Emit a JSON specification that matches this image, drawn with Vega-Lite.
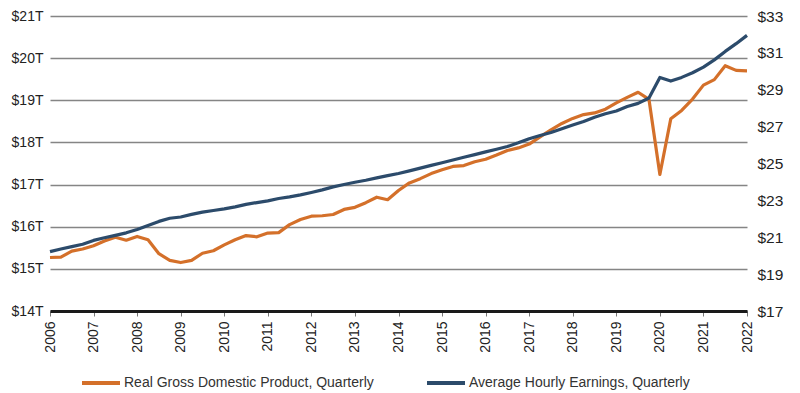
{
  "$schema": "https://vega.github.io/schema/vega-lite/v6.json",
  "width": 697,
  "height": 295,
  "autosize": {"type": "none"},
  "padding": {"left": 50, "top": 16, "right": 53, "bottom": 82},
  "background": "white",
  "config": {
    "view": {"stroke": null},
    "font": "Liberation Sans",
    "axis": {"labelFont": "Liberation Sans", "labelColor": "#222222"},
    "legend": {"labelFont": "Liberation Sans"}
  },
  "data": {
    "values": [
      {"t": 2006, "gdp": 15.27, "ahe": 20.22},
      {"t": 2006.25, "gdp": 15.28, "ahe": 20.36},
      {"t": 2006.5, "gdp": 15.42, "ahe": 20.49},
      {"t": 2006.75, "gdp": 15.47, "ahe": 20.62},
      {"t": 2007, "gdp": 15.55, "ahe": 20.83},
      {"t": 2007.25, "gdp": 15.66, "ahe": 20.97},
      {"t": 2007.5, "gdp": 15.75, "ahe": 21.10},
      {"t": 2007.75, "gdp": 15.68, "ahe": 21.24},
      {"t": 2008, "gdp": 15.77, "ahe": 21.42},
      {"t": 2008.25, "gdp": 15.69, "ahe": 21.64},
      {"t": 2008.5, "gdp": 15.36, "ahe": 21.86},
      {"t": 2008.75, "gdp": 15.20, "ahe": 22.03},
      {"t": 2009, "gdp": 15.15, "ahe": 22.10},
      {"t": 2009.25, "gdp": 15.20, "ahe": 22.24},
      {"t": 2009.5, "gdp": 15.37, "ahe": 22.36},
      {"t": 2009.75, "gdp": 15.43, "ahe": 22.45},
      {"t": 2010, "gdp": 15.57, "ahe": 22.54},
      {"t": 2010.25, "gdp": 15.69, "ahe": 22.65},
      {"t": 2010.5, "gdp": 15.79, "ahe": 22.78},
      {"t": 2010.75, "gdp": 15.76, "ahe": 22.88},
      {"t": 2011, "gdp": 15.85, "ahe": 22.97},
      {"t": 2011.25, "gdp": 15.86, "ahe": 23.10},
      {"t": 2011.5, "gdp": 16.05, "ahe": 23.19},
      {"t": 2011.75, "gdp": 16.17, "ahe": 23.30},
      {"t": 2012, "gdp": 16.25, "ahe": 23.43},
      {"t": 2012.25, "gdp": 16.26, "ahe": 23.57},
      {"t": 2012.5, "gdp": 16.29, "ahe": 23.73},
      {"t": 2012.75, "gdp": 16.41, "ahe": 23.86},
      {"t": 2013, "gdp": 16.46, "ahe": 23.98},
      {"t": 2013.25, "gdp": 16.57, "ahe": 24.09},
      {"t": 2013.5, "gdp": 16.70, "ahe": 24.22},
      {"t": 2013.75, "gdp": 16.64, "ahe": 24.34},
      {"t": 2014, "gdp": 16.86, "ahe": 24.46},
      {"t": 2014.25, "gdp": 17.04, "ahe": 24.60},
      {"t": 2014.5, "gdp": 17.14, "ahe": 24.75},
      {"t": 2014.75, "gdp": 17.26, "ahe": 24.90},
      {"t": 2015, "gdp": 17.35, "ahe": 25.04},
      {"t": 2015.25, "gdp": 17.43, "ahe": 25.19},
      {"t": 2015.5, "gdp": 17.45, "ahe": 25.34},
      {"t": 2015.75, "gdp": 17.54, "ahe": 25.48},
      {"t": 2016, "gdp": 17.60, "ahe": 25.63},
      {"t": 2016.25, "gdp": 17.70, "ahe": 25.77},
      {"t": 2016.5, "gdp": 17.81, "ahe": 25.92},
      {"t": 2016.75, "gdp": 17.87, "ahe": 26.12},
      {"t": 2017, "gdp": 17.96, "ahe": 26.34},
      {"t": 2017.25, "gdp": 18.13, "ahe": 26.52},
      {"t": 2017.5, "gdp": 18.30, "ahe": 26.68},
      {"t": 2017.75, "gdp": 18.45, "ahe": 26.89},
      {"t": 2018, "gdp": 18.57, "ahe": 27.09},
      {"t": 2018.25, "gdp": 18.66, "ahe": 27.28},
      {"t": 2018.5, "gdp": 18.70, "ahe": 27.51},
      {"t": 2018.75, "gdp": 18.79, "ahe": 27.70},
      {"t": 2019, "gdp": 18.94, "ahe": 27.85},
      {"t": 2019.25, "gdp": 19.07, "ahe": 28.09},
      {"t": 2019.5, "gdp": 19.19, "ahe": 28.26},
      {"t": 2019.75, "gdp": 19.02, "ahe": 28.55},
      {"t": 2020, "gdp": 17.24, "ahe": 29.67},
      {"t": 2020.25, "gdp": 18.56, "ahe": 29.47},
      {"t": 2020.5, "gdp": 18.76, "ahe": 29.67},
      {"t": 2020.75, "gdp": 19.03, "ahe": 29.92},
      {"t": 2021, "gdp": 19.36, "ahe": 30.23},
      {"t": 2021.25, "gdp": 19.49, "ahe": 30.62},
      {"t": 2021.5, "gdp": 19.82, "ahe": 31.08},
      {"t": 2021.75, "gdp": 19.71, "ahe": 31.50},
      {"t": 2022, "gdp": 19.70, "ahe": 31.95}
    ]
  },
  "encoding": {
    "x": {
      "field": "t",
      "type": "quantitative",
      "scale": {"domain": [2006, 2022], "nice": false, "zero": false},
      "axis": {
        "title": null,
        "values": [2006, 2007, 2008, 2009, 2010, 2011, 2012, 2013, 2014, 2015, 2016, 2017, 2018, 2019, 2020, 2021, 2022],
        "format": "d",
        "labelAngle": -90,
        "labelFontSize": 14,
        "labelPadding": 5,
        "grid": false,
        "domain": true,
        "domainColor": "#1a1a1a",
        "domainWidth": 3,
        "ticks": true,
        "tickColor": "#777777",
        "tickSize": 5,
        "tickWidth": 1,
        "zindex": 1
      }
    }
  },
  "layer": [
    {
      "mark": {"type": "line", "strokeWidth": 3.2, "strokeJoin": "round"},
      "encoding": {
        "y": {
          "field": "gdp",
          "type": "quantitative",
          "scale": {"domain": [14, 21], "nice": false, "zero": false},
          "axis": {
            "title": null,
            "orient": "left",
            "values": [14, 15, 16, 17, 18, 19, 20, 21],
            "labelExpr": "'$' + datum.value + 'T'",
            "labelFontSize": 14,
            "labelPadding": 7,
            "domain": false,
            "ticks": false,
            "grid": true,
            "gridColor": "#858585",
            "gridWidth": 1.3
          }
        },
        "color": {
          "datum": "Real Gross Domestic Product, Quarterly",
          "type": "nominal",
          "scale": {
            "domain": ["Real Gross Domestic Product, Quarterly", "Average Hourly Earnings, Quarterly"],
            "range": ["#D4702A", "#2C4B6B"]
          },
          "legend": {
            "title": null,
            "orient": "none",
            "direction": "horizontal",
            "legendX": 30,
            "legendY": 346,
            "padding": 0,
            "symbolType": "stroke",
            "symbolSize": 1444,
            "symbolStrokeWidth": 4,
            "labelFontSize": 14,
            "labelColor": "#333333",
            "labelOffset": 2,
            "columnPadding": 45,
            "labelLimit": 400
          }
        }
      }
    },
    {
      "mark": {"type": "line", "strokeWidth": 3.2, "strokeJoin": "round"},
      "encoding": {
        "y": {
          "field": "ahe",
          "type": "quantitative",
          "scale": {"domain": [17, 33], "nice": false, "zero": false},
          "axis": {
            "title": null,
            "orient": "right",
            "values": [17, 19, 21, 23, 25, 27, 29, 31, 33],
            "labelExpr": "'$' + datum.value",
            "labelFontSize": 15.5,
            "labelPadding": 10,
            "domain": false,
            "ticks": false,
            "grid": false
          }
        },
        "color": {"datum": "Average Hourly Earnings, Quarterly", "type": "nominal"}
      }
    }
  ],
  "resolve": {"scale": {"y": "independent"}}
}
